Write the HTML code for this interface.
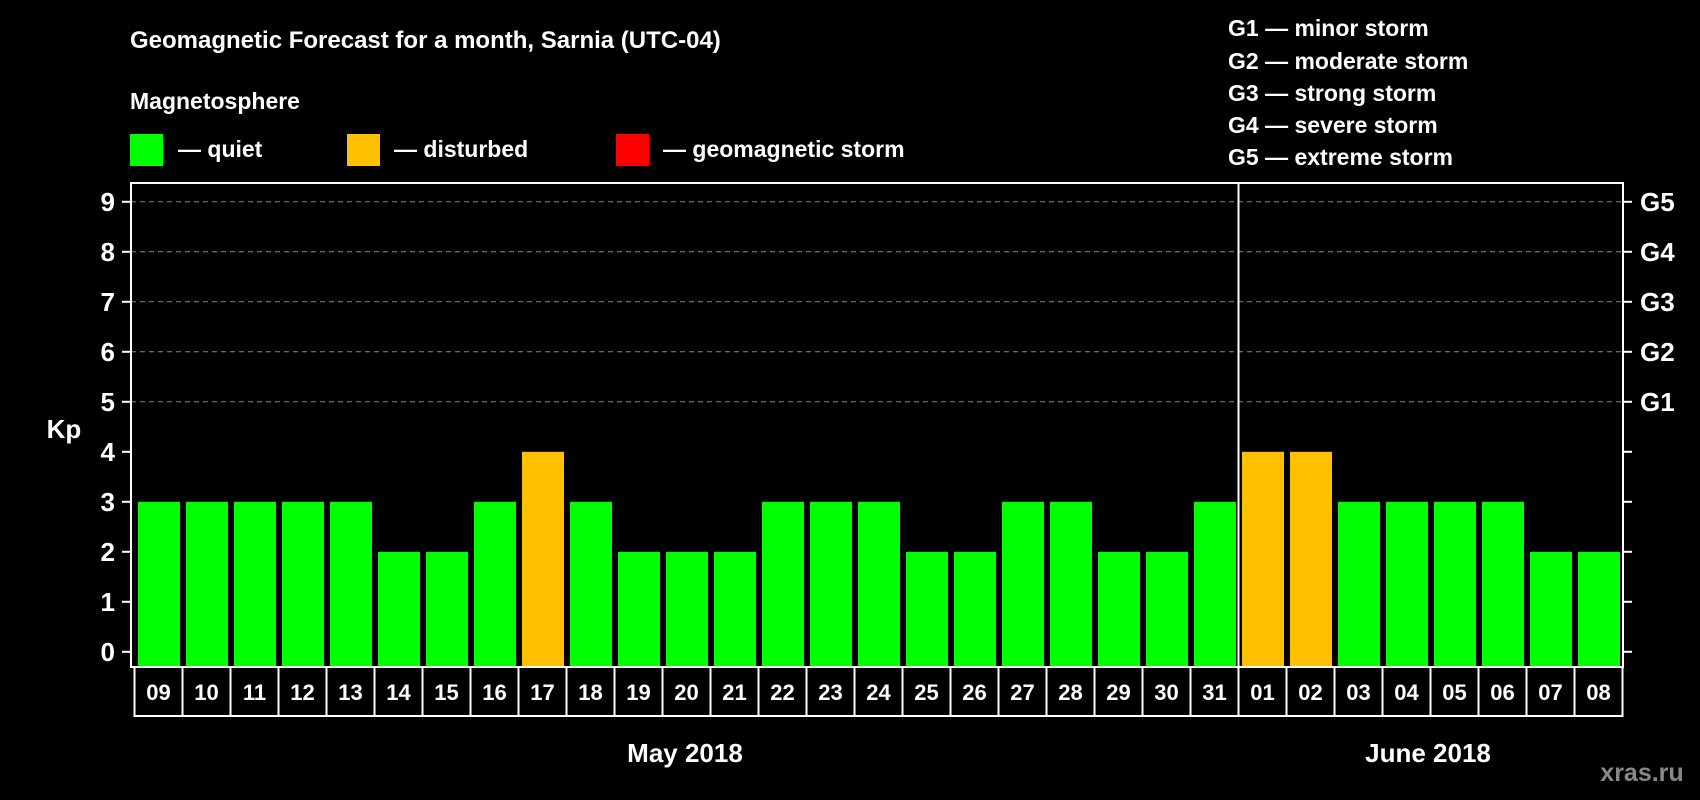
<!DOCTYPE html>
<html><head><meta charset="utf-8"><style>
html,body{margin:0;padding:0;background:#000;}
svg{display:block;font-family:"Liberation Sans",Arial,sans-serif;font-weight:bold;}
</style></head><body>
<svg id="chart" width="1700" height="800" viewBox="0 0 1700 800">
<rect width="1700" height="800" fill="#000"/>
<text x="130" y="48" fill="#fff" font-size="24">Geomagnetic Forecast for a month, Sarnia (UTC-04)</text>
<text x="130" y="109" fill="#fff" font-size="23">Magnetosphere</text>
<g><rect x="130" y="134" width="33" height="32" fill="#00ff00"/><text x="178" y="157" fill="#fff" font-size="23">— quiet</text></g>
<g><rect x="347" y="134" width="33" height="32" fill="#ffc000"/><text x="394" y="157" fill="#fff" font-size="23">— disturbed</text></g>
<g><rect x="616" y="134" width="33" height="32" fill="#ff0000"/><text x="663" y="157" fill="#fff" font-size="23">— geomagnetic storm</text></g>
<g fill="#fff" font-size="23">
<text x="1228" y="36">G1 — minor storm</text>
<text x="1228" y="69">G2 — moderate storm</text>
<text x="1228" y="101">G3 — strong storm</text>
<text x="1228" y="133">G4 — severe storm</text>
<text x="1228" y="165">G5 — extreme storm</text>
</g>
<text x="64" y="438" fill="#fff" font-size="26" text-anchor="middle">Kp</text>
<g id="grid"></g><g id="bars"></g><g id="axes"></g><g id="dates"></g>
<rect x="131" y="183" width="1492" height="484" fill="none" stroke="#fff" stroke-width="2"/>
<line x1="1238.5" y1="183" x2="1238.5" y2="716" stroke="#fff" stroke-width="2"/>
<text x="685" y="762" fill="#fff" font-size="26" text-anchor="middle">May 2018</text>
<text x="1428" y="762" fill="#fff" font-size="26" text-anchor="middle">June 2018</text>
<text x="1642" y="781" fill="#888" font-size="25" text-anchor="middle">xras.ru</text>
</svg>
<script>
const days = ["09","10","11","12","13","14","15","16","17","18","19","20","21","22","23","24","25","26","27","28","29","30","31","01","02","03","04","05","06","07","08"];
const kpValues = [3,3,3,3,3,2,2,3,4,3,2,2,2,3,3,3,2,2,3,3,2,2,3,4,4,3,3,3,3,2,2];
const yTicks = [0,1,2,3,4,5,6,7,8,9];
const gLabels = ["","","","","","G1","G2","G3","G4","G5"];
const NS = "http://www.w3.org/2000/svg";
const y = v => 651.8 - 50 * v;
const x = i => 134.5 + 48 * i;
const baseY = 667;
function mk(tag, attrs, parent, txt){const e=document.createElementNS(NS,tag);for(const k in attrs)e.setAttribute(k,attrs[k]);if(txt!==undefined)e.textContent=txt;parent.appendChild(e);return e;}
const grid=document.getElementById('grid'),bars=document.getElementById('bars'),axes=document.getElementById('axes'),dates=document.getElementById('dates');
yTicks.forEach((t,k)=>{
  if(t>=5){const g=mk('line',{x1:131,x2:1623,y1:y(t),y2:y(t),stroke:'#888','stroke-dasharray':'5,4','stroke-width':1},grid);
    
    }
  const lt=mk('line',{x1:122,x2:131,y1:y(t),y2:y(t),stroke:'#fff','stroke-width':2},axes);
  
  
  const rt=mk('line',{x1:1623,x2:1632,y1:y(t),y2:y(t),stroke:'#fff','stroke-width':2},axes);
  
  
  const tl=mk('text',{x:115,y:y(t)+9,fill:'#fff','font-size':26,'text-anchor':'end'},axes,String(t));
  
  
  if(gLabels[k]){const gl=mk('text',{x:1640,y:y(t)+9,fill:'#fff','font-size':26},axes,gLabels[k]);
    
    }
});
kpValues.forEach((v,i)=>{
  const col=v>=5?'#ff0000':(v>=4?'#ffc000':'#00ff00');
  const b=mk('rect',{x:x(i)+3.5,y:y(v),width:42,height:baseY-y(v),fill:col},bars);
  
  
});
days.forEach((d,i)=>{
  const r=mk('rect',{x:x(i),y:667,width:48,height:49,fill:'#000',stroke:'#fff','stroke-width':2},dates);
  
  
  const t=mk('text',{x:x(i)+24,y:700,fill:'#fff','font-size':22,'text-anchor':'middle'},dates,d);
  
  
});
</script>
</body></html>
